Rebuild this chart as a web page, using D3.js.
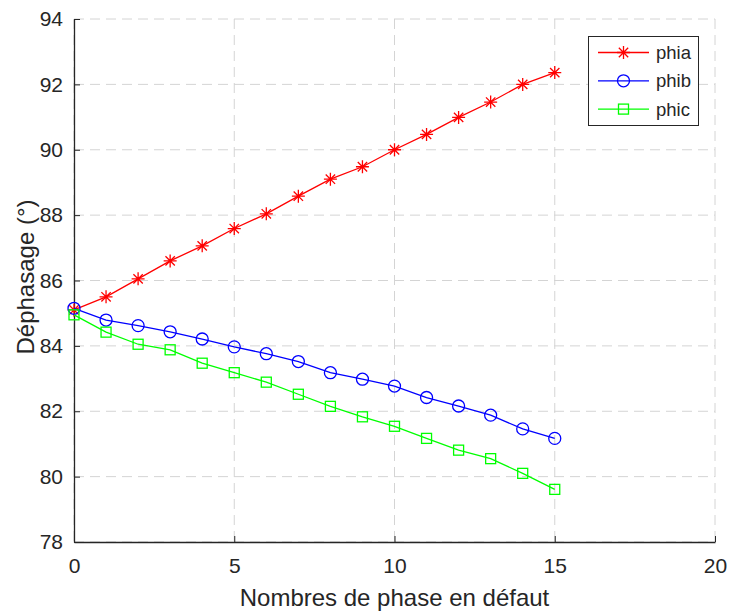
<!DOCTYPE html>
<html>
<head>
<meta charset="utf-8">
<script src="https://cdn.jsdelivr.net/npm/d3@7"></script>
<style>
  html, body { margin: 0; padding: 0; background: #fff; }
  svg { display: block; font-family: "Liberation Sans", Arial, sans-serif; }
</style>
</head>
<body>
<svg id="chart" width="732" height="614"></svg>
<script>
// Number of faulted phases
const faults = [0, 1, 2, 3, 4, 5, 6, 7, 8, 9, 10, 11, 12, 13, 14, 15];
// Phase shift per phase (degrees)
const phia = [85.1, 85.5, 86.05, 86.6, 87.06, 87.59, 88.04, 88.58, 89.1, 89.48, 90.0, 90.47, 90.99, 91.46, 92.0, 92.36];
const phib = [85.15, 84.79, 84.62, 84.43, 84.21, 83.97, 83.76, 83.52, 83.18, 82.98, 82.77, 82.42, 82.16, 81.88, 81.46, 81.17];
const phic = [84.95, 84.42, 84.05, 83.88, 83.47, 83.18, 82.89, 82.52, 82.15, 81.83, 81.54, 81.17, 80.81, 80.55, 80.1, 79.61];
const xTicks = [0, 5, 10, 15, 20];
const yTicks = [78, 80, 82, 84, 86, 88, 90, 92, 94];

const series = [
  { name: "phia", values: phia, color: "#ff0000", marker: "star" },
  { name: "phib", values: phib, color: "#0000ff", marker: "circle" },
  { name: "phic", values: phic, color: "#00ff00", marker: "square" }
];

const svg = d3.select("#chart");
const plotLeft = 74, plotRight = 715, plotTop = 19, plotBottom = 542;

const x = d3.scaleLinear().domain([0, 20]).range([plotLeft, plotRight]);
const y = d3.scaleLinear().domain([78, 94]).range([plotBottom, plotTop]);

// Dashed grid
const grid = svg.append("g").attr("stroke", "#d4d4d4").attr("stroke-width", 1)
  .attr("stroke-dasharray", "10,6").attr("fill", "none");
xTicks.forEach(t => {
  grid.append("line").attr("x1", x(t)).attr("x2", x(t)).attr("y1", plotTop).attr("y2", plotBottom);
});
yTicks.forEach(t => {
  grid.append("line").attr("x1", plotLeft).attr("x2", plotRight).attr("y1", y(t)).attr("y2", y(t));
});

// Axes with inward ticks
const axisColor = "#262626";
const xAxis = svg.append("g").attr("transform", `translate(0,${plotBottom})`)
  .call(d3.axisBottom(x).tickValues(xTicks).tickSizeInner(-6).tickSizeOuter(0).tickPadding(16));
const yAxis = svg.append("g").attr("transform", `translate(${plotLeft},0)`)
  .call(d3.axisLeft(y).tickValues(yTicks).tickSizeInner(-6).tickSizeOuter(0).tickPadding(11));
[xAxis, yAxis].forEach(g => {
  g.select(".domain").attr("stroke", axisColor).attr("stroke-width", 1.3);
  g.selectAll(".tick line").attr("stroke", axisColor);
  g.selectAll(".tick text").attr("fill", axisColor).attr("font-size", 21)
    .attr("font-family", "'Liberation Sans', Arial, sans-serif");
});

// Axis titles
svg.append("text").attr("x", (plotLeft + plotRight) / 2).attr("y", 606)
  .attr("text-anchor", "middle").attr("font-size", 24).attr("fill", axisColor)
  .text("Nombres de phase en défaut");
svg.append("text").attr("transform", `translate(34,277) rotate(-90)`)
  .attr("text-anchor", "middle").attr("font-size", 24).attr("fill", axisColor)
  .text("Déphasage (°)");

// Marker drawing
function drawMarker(g, type, cx, cy, color) {
  if (type === "star") {
    const r = 6.5;
    const p = d3.path();
    p.moveTo(cx - r, cy); p.lineTo(cx + r, cy);
    p.moveTo(cx, cy - r); p.lineTo(cx, cy + r);
    const d = r * 0.72;
    p.moveTo(cx - d, cy - d); p.lineTo(cx + d, cy + d);
    p.moveTo(cx - d, cy + d); p.lineTo(cx + d, cy - d);
    g.append("path").attr("d", p.toString()).attr("stroke", color).attr("stroke-width", 1.3).attr("fill", "none");
  } else if (type === "circle") {
    g.append("circle").attr("cx", cx).attr("cy", cy).attr("r", 6)
      .attr("stroke", color).attr("stroke-width", 1.3).attr("fill", "none");
  } else {
    g.append("rect").attr("x", cx - 5).attr("y", cy - 5).attr("width", 10).attr("height", 10)
      .attr("stroke", color).attr("stroke-width", 1.3).attr("fill", "none");
  }
}

const line = d3.line().x(d => x(d[0])).y(d => y(d[1]));
series.forEach(s => {
  const pts = faults.map((f, i) => [f, s.values[i]]);
  const g = svg.append("g");
  g.append("path").attr("d", line(pts)).attr("stroke", s.color).attr("stroke-width", 1.3).attr("fill", "none");
  pts.forEach(p => drawMarker(g, s.marker, x(p[0]), y(p[1]), s.color));
});

// Legend
const lg = svg.append("g");
lg.append("rect").attr("x", 588.5).attr("y", 36.5).attr("width", 110).attr("height", 89)
  .attr("fill", "#fff").attr("stroke", "#262626").attr("stroke-width", 1);
series.forEach((s, i) => {
  const ly = 52.5 + i * 28.3;
  lg.append("line").attr("x1", 598).attr("x2", 649).attr("y1", ly).attr("y2", ly)
    .attr("stroke", s.color).attr("stroke-width", 1.3);
  drawMarker(lg, s.marker, 623.5, ly, s.color);
  lg.append("text").attr("x", 656).attr("y", ly + 6.5).attr("font-size", 18.5).attr("fill", "#262626").text(s.name);
});
</script>
</body>
</html>
